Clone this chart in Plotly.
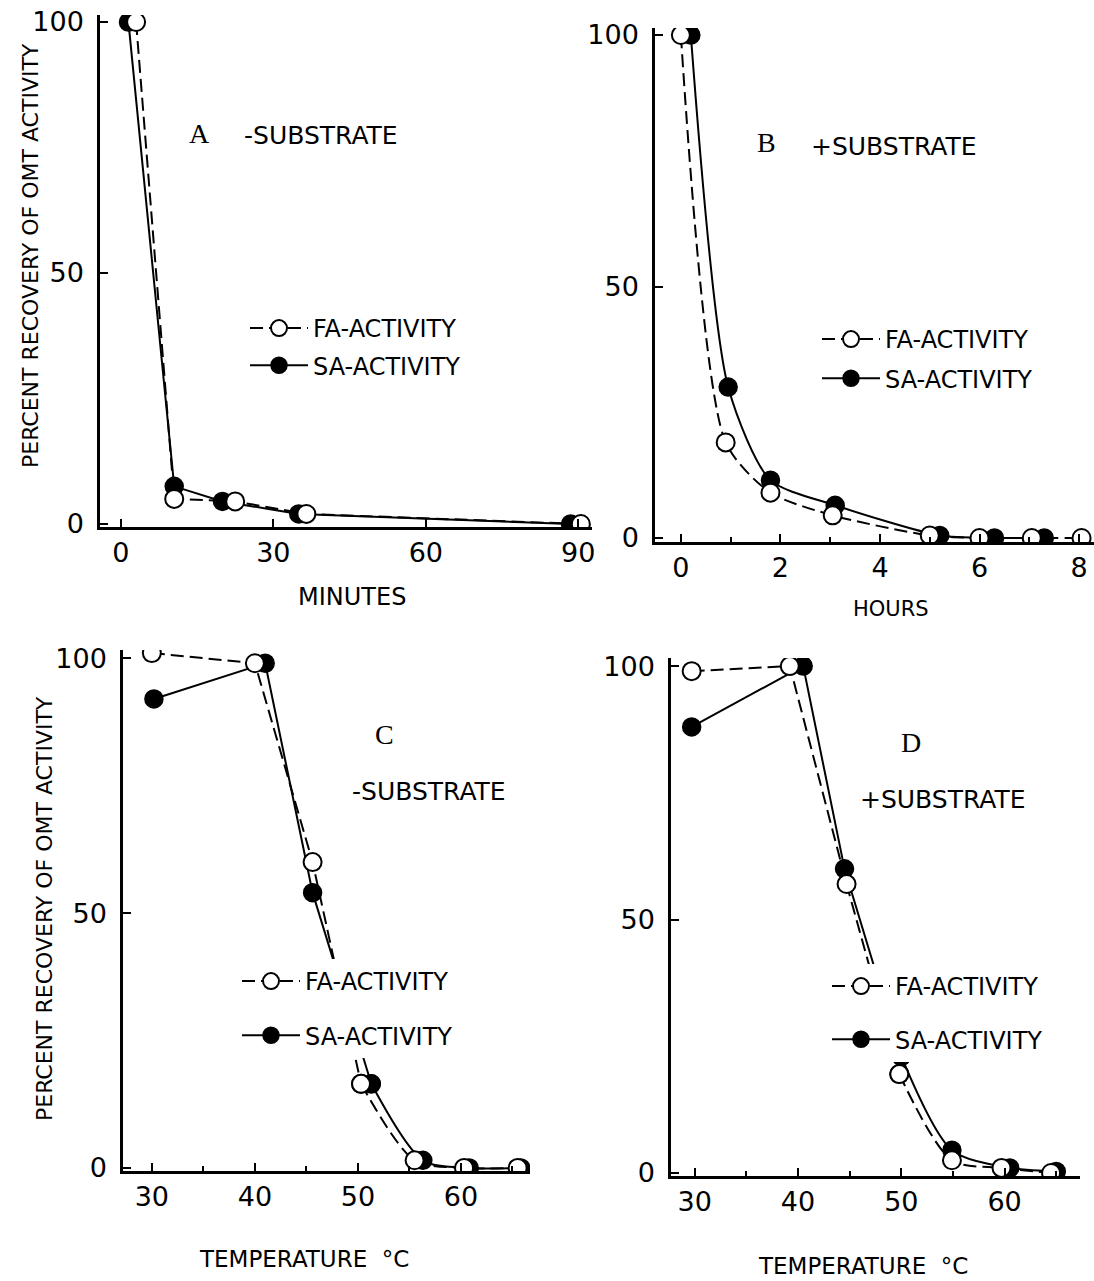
import plotly.graph_objects as go

W, H = 1094, 1281

# ---------------- data ----------------
# Panel A: -substrate, time in minutes
a_fa_t = [3, 10.5, 22.5, 36.5, 90.5]
a_fa_v = [100, 5, 4.5, 2, 0]
a_sa_t = [1.5, 10.5, 20, 35, 88.5]
a_sa_v = [100, 7.5, 4.5, 2, 0]

# Panel B: +substrate, time in hours
b_fa_t = [0, 0.9, 1.8, 3.05, 5.0, 6.0, 7.05, 8.05]
b_fa_v = [100, 19, 9, 4.5, 0.5, 0, 0, 0]
b_sa_t = [0.2, 0.95, 1.8, 3.1, 5.2, 6.3, 7.3]
b_sa_v = [100, 30, 11.5, 6.5, 0.5, 0, 0]

# Panel C: -substrate, temperature
c_fa_t = [30, 40, 45.6, 50.3, 55.5, 60.3, 65.5]
c_fa_v = [101, 99, 60, 16.5, 1.5, 0, 0]
c_sa_t = [30.2, 41, 45.6, 51.3, 56.3, 60.8, 65.8]
c_sa_v = [92, 99, 54, 16.5, 1.5, 0, 0]

# Panel D: +substrate, temperature
d_fa_t = [29.7, 39.2, 44.7, 49.8, 54.9, 59.7, 64.5]
d_fa_v = [99, 100, 57, 19.5, 2.5, 1, 0]
d_sa_t = [29.7, 40.5, 44.5, 50, 54.9, 60.5, 65]
d_sa_v = [88, 100, 60, 23, 4.5, 1, 0.3]

y_ticks = [0, 50, 100]
fa_name = "FA-ACTIVITY"
sa_name = "SA-ACTIVITY"
y_title = "PERCENT RECOVERY OF OMT ACTIVITY"

NUM_FONT = "DejaVu Sans, sans-serif"
TXT_FONT = "DejaVu Sans, sans-serif"
SERIF = "Liberation Serif, serif"
DASH = "13px,6px"


def xd(x0, x1):
    return [x0 / W, x1 / W]


def yd(top, bottom):
    return [1 - bottom / H, 1 - top / H]


def px(x):
    return x / W


def py(y):
    return 1 - y / H


fig = go.Figure()


def sa_trace(x, y, ax, lg, shape, show=True, smoothing=0.7):
    line = dict(color="black", width=2, shape=shape)
    if shape == "spline":
        line["smoothing"] = smoothing
    return go.Scatter(
        x=x, y=y, mode="lines+markers", name=sa_name, line=line,
        marker=dict(size=18, color="black", line=dict(color="black", width=1.5)),
        xaxis="x" + ax, yaxis="y" + ax, legend=lg, legendgroup="sa" + ax,
        legendrank=2, showlegend=show,
    )


def fa_trace(x, y, ax, lg, shape, show=True, smoothing=0.7):
    line = dict(color="black", width=2, dash=DASH, shape=shape)
    if shape == "spline":
        line["smoothing"] = smoothing
    return go.Scatter(
        x=x, y=y, mode="lines+markers", name=fa_name, line=line,
        marker=dict(size=18, color="white", line=dict(color="black", width=2)),
        xaxis="x" + ax, yaxis="y" + ax, legend=lg, legendgroup="fa" + ax,
        legendrank=1, showlegend=show,
    )


# Panel A: straight segments
fig.add_trace(sa_trace(a_sa_t, a_sa_v, "", "legend", "linear"))
fig.add_trace(fa_trace(a_fa_t, a_fa_v, "", "legend", "linear"))
# Panel B: smooth decay curves
fig.add_trace(sa_trace(b_sa_t, b_sa_v, "2", "legend2", "spline"))
fig.add_trace(fa_trace(b_fa_t, b_fa_v, "2", "legend2", "spline"))
# Panels C, D: straight upper part, smooth tail
for ax, lg, ft, fv, st, sv in [("3", "legend3", c_fa_t, c_fa_v, c_sa_t, c_sa_v),
                               ("4", "legend4", d_fa_t, d_fa_v, d_sa_t, d_sa_v)]:
    fig.add_trace(sa_trace(st[:4], sv[:4], ax, lg, "linear"))
    fig.add_trace(sa_trace(st[3:], sv[3:], ax, lg, "spline", show=False, smoothing=0.8))
    fig.add_trace(fa_trace(ft[:4], fv[:4], ax, lg, "linear"))
    fig.add_trace(fa_trace(ft[3:], fv[3:], ax, lg, "spline", show=False, smoothing=0.8))

axis_common = dict(
    showline=True, linecolor="black", linewidth=2.5, mirror=False,
    showgrid=False, zeroline=False, automargin=False,
    ticks="inside", ticklen=8, tickwidth=2, tickcolor="black",
    tickfont=dict(family=NUM_FONT, size=27, color="black"),
)
yaxis_extra = dict(ticklabelstandoff=8)

layout = dict(
    width=W, height=H,
    margin=dict(l=0, r=0, t=0, b=0, pad=0),
    paper_bgcolor="white", plot_bgcolor="white",
    showlegend=True,
    # Panel A
    xaxis=dict(domain=xd(100, 592), range=[-4.1, 92.7], tickvals=[0, 30, 60, 90],
               anchor="y", **axis_common),
    yaxis=dict(domain=yd(15, 527), range=[-0.6, 101.4], tickvals=y_ticks,
               anchor="x", **yaxis_extra, **axis_common),
    # Panel B
    xaxis2=dict(domain=xd(655, 1094), range=[-0.52, 8.30], tickvals=[0, 2, 4, 6, 8],
                anchor="y2", minor=dict(ticks="inside", ticklen=5, dtick=1, tick0=0, tickcolor="black"),
                **axis_common),
    yaxis2=dict(domain=yd(28, 542), range=[-0.8, 101.4], tickvals=y_ticks,
                anchor="x2", **yaxis_extra, **axis_common),
    # Panel C
    xaxis3=dict(domain=xd(123, 530), range=[27.2, 66.7], tickvals=[30, 40, 50, 60],
                anchor="y3", minor=dict(ticks="inside", ticklen=5, dtick=5, tick0=30, tickcolor="black"),
                **axis_common),
    yaxis3=dict(domain=yd(650, 1171), range=[-0.6, 101.6], tickvals=y_ticks,
                anchor="x3", **yaxis_extra, **axis_common),
    # Panel D
    xaxis4=dict(domain=xd(671, 1080), range=[27.7, 67.3], tickvals=[30, 40, 50, 60],
                anchor="y4", minor=dict(ticks="inside", ticklen=5, dtick=5, tick0=30, tickcolor="black"),
                **axis_common),
    yaxis4=dict(domain=yd(658, 1176), range=[-0.6, 101.6], tickvals=y_ticks,
                anchor="x4", **yaxis_extra, **axis_common),
)

leg_common = dict(
    bgcolor="white", borderwidth=0, xanchor="left", yanchor="top",
    font=dict(family=TXT_FONT, size=24, color="black"),
    traceorder="grouped", itemclick=False, itemdoubleclick=False,
    itemwidth=58,
)
layout["legend"] = dict(x=px(245), y=py(306), tracegroupgap=3, **leg_common)
layout["legend2"] = dict(x=px(817), y=py(317), tracegroupgap=5, **leg_common)
layout["legend3"] = dict(x=px(237), y=py(959), tracegroupgap=20, **leg_common)
layout["legend4"] = dict(x=px(827), y=py(964), tracegroupgap=19, **leg_common)

fig.update_layout(**layout)

ann = []


def text(x, y, s, size=18, family=TXT_FONT, angle=0, anchor="center"):
    ann.append(dict(x=px(x), y=py(y), xref="paper", yref="paper", text=s,
                    showarrow=False, textangle=angle, xanchor=anchor, yanchor="middle",
                    font=dict(family=family, size=size, color="black")))


# Y-axis titles
text(30, 256, y_title, size=22, angle=-90)
text(44, 909, y_title, size=22, angle=-90)
# X-axis titles
text(352, 597, "MINUTES", size=24)
text(891, 609, "HOURS", size=21)
text(197, 1259, "TEMPERATURE  °C", size=23, anchor="left")
text(756, 1266, "TEMPERATURE  °C", size=23, anchor="left")
# Panel labels
text(199, 133, "A", size=28, family=SERIF)
text(242, 135, "-SUBSTRATE", size=25, anchor="left")
text(766, 142, "B", size=28, family=SERIF)
text(809, 146, "+SUBSTRATE", size=25, anchor="left")
text(384, 734, "C", size=28, family=SERIF)
text(350, 791, "-SUBSTRATE", size=25, anchor="left")
text(911, 742, "D", size=28, family=SERIF)
text(858, 799, "+SUBSTRATE", size=25, anchor="left")

fig.update_layout(annotations=ann)

fig.write_html("out.html")
